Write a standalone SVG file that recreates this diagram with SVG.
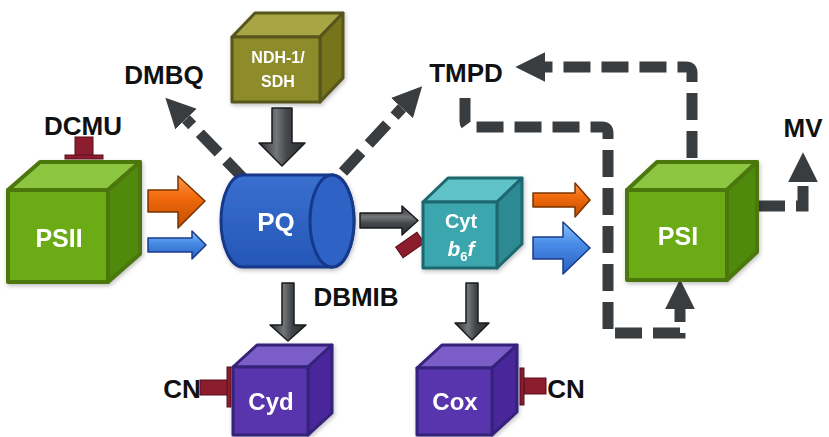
<svg xmlns="http://www.w3.org/2000/svg" width="829" height="437" viewBox="0 0 829 437">
<style>
text{font-family:"Liberation Sans","DejaVu Sans",sans-serif;font-weight:bold}
.lbl{font-size:26px;fill:#111}
.in{fill:#fff;text-anchor:middle}
.dash{fill:none;stroke:#3a3d40;stroke-width:11;stroke-dasharray:27 11;marker-end:url(#dh)}
.green .f{fill:#6aab12}.green .t{fill:#8cc640}.green .r{fill:#4f8a0c}.green polygon,.green rect{stroke:#4b770f;stroke-width:4;stroke-linejoin:round}
.olive .f{fill:#8e8b2b}.olive .t{fill:#a8a544}.olive .r{fill:#77741f}.olive polygon,.olive rect{stroke:#56541a;stroke-width:3;stroke-linejoin:round}
.teal .f{fill:#3ba6ae}.teal .t{fill:#5ec2c6}.teal .r{fill:#2d8a92}.teal polygon,.teal rect{stroke:#1f6870;stroke-width:3;stroke-linejoin:round}
.purple .f{fill:#5935ad}.purple .t{fill:#7a5dc6}.purple .r{fill:#48289a}.purple polygon,.purple rect{stroke:#35207a;stroke-width:3;stroke-linejoin:round}
.garrow{fill:url(#gv);stroke:#1a1b1d;stroke-width:1.5;stroke-linejoin:round}
.garrowh{fill:url(#gh);stroke:#1a1b1d;stroke-width:1.5;stroke-linejoin:round}
.orange{fill:url(#go);stroke:#7a3200;stroke-width:1.5;stroke-linejoin:round}
.blue{fill:url(#gb);stroke:#1a3a8a;stroke-width:1.5;stroke-linejoin:round}
.inh{fill:#8c1d2e;stroke:#5a0f1a;stroke-width:1}
</style>
<defs>
<marker id="dh" viewBox="0 0 10 10" refX="0" refY="5" markerWidth="2.7" markerHeight="2.8" orient="auto" markerUnits="strokeWidth">
<path d="M0,0 L10,5 L0,10 Z" fill="#3a3d40"/>
</marker>
<linearGradient id="gv" x1="0" y1="0" x2="1" y2="0">
<stop offset="0" stop-color="#2a2c2e"/><stop offset="0.38" stop-color="#74777a"/><stop offset="0.6" stop-color="#43464a"/><stop offset="1" stop-color="#2a2c2e"/>
</linearGradient>
<linearGradient id="gh" x1="0" y1="0" x2="0" y2="1">
<stop offset="0" stop-color="#2a2c2e"/><stop offset="0.38" stop-color="#74777a"/><stop offset="0.6" stop-color="#43464a"/><stop offset="1" stop-color="#2a2c2e"/>
</linearGradient>
<linearGradient id="go" x1="0" y1="0" x2="0" y2="1">
<stop offset="0" stop-color="#ff9a4a"/><stop offset="0.4" stop-color="#f26a0c"/><stop offset="1" stop-color="#c04e00"/>
</linearGradient>
<linearGradient id="gb" x1="0" y1="0" x2="0" y2="1">
<stop offset="0" stop-color="#8cc4ff"/><stop offset="0.4" stop-color="#4a8ee8"/><stop offset="1" stop-color="#2a5fc0"/>
</linearGradient>
<linearGradient id="gpq" x1="0" y1="0" x2="0" y2="1">
<stop offset="0" stop-color="#3a70d0"/><stop offset="1" stop-color="#2556b6"/>
</linearGradient>
<filter id="sh" x="-20%" y="-20%" width="140%" height="140%">
<feDropShadow dx="1" dy="2" stdDeviation="2" flood-color="#000" flood-opacity="0.25"/>
</filter>
</defs>

<g id="connectors">
<path class="dash" d="M245,180 L186,119"/>
<path class="dash" d="M343,172 L402,108"/>
<path class="dash" d="M692,158 L692,73 Q692,67 686,67 L545,67"/>
<path class="dash" d="M465,98 L465,121 Q465,127 471,127 L602,127 Q608,127 608,133 L608,333 L680,333 L680,309"/>
<path class="dash" d="M758,206 L803,206 L803,182"/>
<polygon class="garrow" points="272,108 292,108 292,143 305,143 282,166 259,143 272,143"/>
<polygon class="garrow" points="282,283 294,283 294,325 306,325 288,341 270,325 282,325"/>
<polygon class="garrow" points="466,283 478,283 478,323 489,323 472,340 455,323 466,323"/>
<polygon class="garrowh" points="360,213 402,213 402,206 418,220.5 402,235 402,228 360,228"/>
<polygon class="orange" points="148,190 178,190 178,176 205,201 178,228 178,212 148,212"/>
<polygon class="blue" points="148,238 192,238 192,231 206,245 192,259 192,252 148,252"/>
<polygon class="orange" points="533,193 575,193 575,183 590,200 575,217 575,207 533,207"/>
<polygon class="blue" points="533,237 563,237 563,222 590,248 563,274 563,259 533,259"/>
</g>

<g id="inhibitors">
<rect class="inh" x="75" y="137" width="18" height="20"/>
<rect class="inh" x="65" y="155" width="38" height="4"/>
<rect class="inh" x="200" y="380" width="28" height="15"/>
<rect class="inh" x="227" y="367" width="4" height="40"/>
<rect class="inh" x="524" y="378" width="22" height="16"/>
<rect class="inh" x="520" y="368" width="4" height="37"/>
<rect class="inh" x="397" y="238.5" width="26" height="13" transform="rotate(-35 410 245)"/>
</g>

<g id="PSII" class="green" filter="url(#sh)">
<polygon class="t" points="8,190 40,162 140,162 108,190"/>
<polygon class="r" points="108,190 140,162 140,254 108,282"/>
<rect class="f" x="8" y="190" width="100" height="92"/>
<text class="in" x="59" y="247" font-size="25">PSII</text>
</g>

<g id="NDH" class="olive" filter="url(#sh)">
<polygon class="t" points="232,37 255,13 343,13 320,37"/>
<polygon class="r" points="320,37 343,13 343,78 320,102"/>
<rect class="f" x="232" y="37" width="88" height="65"/>
<text class="in" x="278" y="63" font-size="16">NDH-1/</text>
<text class="in" x="278" y="87" font-size="16">SDH</text>
</g>

<g id="PQ" filter="url(#sh)">
<path d="M243,175 L332,175 A22,46 0 0 1 332,267 L243,267 A22,46 0 0 1 243,175 Z" fill="url(#gpq)" stroke="#17388a" stroke-width="3"/>
<ellipse cx="332" cy="221" rx="22" ry="46" fill="#2d62c4" stroke="#17388a" stroke-width="3"/>
<text class="in" x="276" y="231" font-size="26">PQ</text>
</g>

<g id="Cyt" class="teal" filter="url(#sh)">
<polygon class="t" points="423,202 448,178 522,178 497,202"/>
<polygon class="r" points="497,202 522,178 522,244 497,268"/>
<rect class="f" x="423" y="202" width="74" height="66"/>
<text class="in" x="461" y="228" font-size="20">Cyt</text>
<text class="in" x="461" y="256" font-size="21"><tspan font-style="italic">b</tspan><tspan font-size="13" dy="5">6</tspan><tspan font-style="italic" dy="-5" dx="0">f</tspan></text>
</g>

<g id="PSI" class="green" filter="url(#sh)">
<polygon class="t" points="627,190 657,162 757,162 727,190"/>
<polygon class="r" points="727,190 757,162 757,252 727,280"/>
<rect class="f" x="627" y="190" width="100" height="90"/>
<text class="in" x="678" y="245" font-size="25">PSI</text>
</g>

<g id="Cyd" class="purple" filter="url(#sh)">
<polygon class="t" points="233,367 257,345 332,345 308,367"/>
<polygon class="r" points="308,367 332,345 332,413 308,435"/>
<rect class="f" x="233" y="367" width="75" height="68"/>
<text class="in" x="271" y="410" font-size="24">Cyd</text>
</g>

<g id="Cox" class="purple" filter="url(#sh)">
<polygon class="t" points="417,368 442,345 517,345 492,368"/>
<polygon class="r" points="492,368 517,345 517,412 492,435"/>
<rect class="f" x="417" y="368" width="75" height="67"/>
<text class="in" x="455" y="410" font-size="24">Cox</text>
</g>

<g id="labels">
<text class="lbl" x="83" y="135" text-anchor="middle">DCMU</text>
<text class="lbl" x="164" y="84" text-anchor="middle">DMBQ</text>
<text class="lbl" x="466" y="82" text-anchor="middle">TMPD</text>
<text class="lbl" x="356" y="306" text-anchor="middle">DBMIB</text>
<text class="lbl" x="803" y="137" text-anchor="middle">MV</text>
<text class="lbl" x="182" y="398" text-anchor="middle">CN</text>
<text class="lbl" x="566" y="398" text-anchor="middle">CN</text>
</g>
</svg>
